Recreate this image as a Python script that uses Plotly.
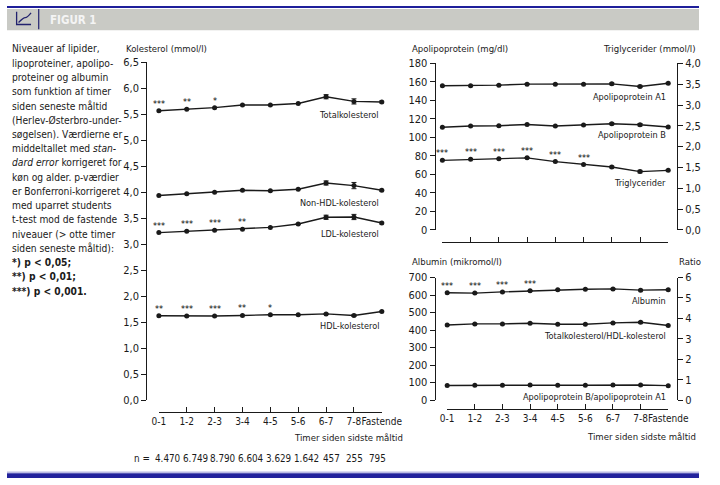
import plotly.graph_objects as go

# ---------------- data ----------------
categories = ["0-1", "1-2", "2-3", "3-4", "4-5", "5-6", "6-7", "7-8", "Fastende"]
n_values = ["4.470", "6.749", "8.790", "6.604", "3.629", "1.642", "457", "255", "795"]

total_chol = [5.57, 5.60, 5.63, 5.68, 5.68, 5.71, 5.84, 5.75, 5.74]
total_chol_err = [None, None, None, None, None, None, 0.04, 0.05, 0.02]
total_chol_sig = ["***", "**", "*", "", "", "", "", "", ""]

nonhdl_chol = [3.94, 3.975, 4.00, 4.04, 4.03, 4.06, 4.18, 4.13, 4.04]
nonhdl_chol_err = [None, None, None, None, None, None, 0.04, 0.06, 0.02]
nonhdl_chol_sig = ["", "", "", "", "", "", "", "", ""]

ldl_chol = [3.225, 3.25, 3.27, 3.29, 3.325, 3.39, 3.52, 3.525, 3.41]
ldl_chol_err = [None, None, None, None, None, None, 0.04, 0.05, 0.02]
ldl_chol_sig = ["***", "***", "***", "**", "", "", "", "", ""]

hdl_chol = [1.625, 1.62, 1.62, 1.63, 1.645, 1.645, 1.66, 1.63, 1.705]
hdl_chol_err = [None, None, None, None, None, None, 0.01, 0.02, 0.01]
hdl_chol_sig = ["**", "***", "***", "**", "*", "", "", "", ""]

apoa1 = [155.8, 155.8, 156.5, 157.6, 157.6, 157.6, 157.9, 155.1, 158.6]
apoa1_err = [None, None, None, None, None, None, 1.0, 1.2, 0.8]
apob = [110.9, 112.3, 112.6, 114.0, 112.3, 113.3, 114.7, 113.7, 111.2]
apob_err = [None, None, None, None, None, None, 1.0, 1.3, 0.8]
trig = [1.67, 1.695, 1.71, 1.73, 1.64, 1.57, 1.51, 1.40, 1.43]
trig_err = [None, None, None, None, None, None, 0.02, 0.03, 0.02]
trig_sig = ["***", "***", "***", "***", "***", "***", "", "", ""]

albumin = [613, 611, 618, 624, 630, 633, 635, 628, 630]
albumin_err = [None, None, None, None, None, None, 3, 4, 3]
albumin_sig = ["***", "***", "***", "***", "", "", "", "", ""]
tc_hdl_ratio = [3.68, 3.73, 3.73, 3.76, 3.71, 3.71, 3.78, 3.81, 3.65]
tc_hdl_ratio_err = [None, None, None, None, None, None, 0.02, 0.04, 0.02]
apob_apoa1_ratio = [0.72, 0.73, 0.73, 0.74, 0.73, 0.73, 0.74, 0.74, 0.71]

# ---------------- layout helpers ----------------
W, H = 720, 485
FONT = "Liberation Sans Narrow, DejaVu Sans Condensed, Arial Narrow, sans-serif"
INK = "#1a1a1a"


def X(px):
    return px / W


def Y(py):
    return 1 - py / H


fig = go.Figure()


def add_series(vals, err, xa, ya):
    fig.add_trace(go.Scatter(
        x=categories, y=vals, xaxis=xa, yaxis=ya, mode="lines+markers",
        line=dict(color=INK, width=1.4), marker=dict(color=INK, size=5),
        error_y=dict(type="data", array=err, color=INK, thickness=1, width=2.5),
        cliponaxis=False, showlegend=False, hoverinfo="skip"))


add_series(total_chol, total_chol_err, "x", "y")
add_series(nonhdl_chol, nonhdl_chol_err, "x", "y")
add_series(ldl_chol, ldl_chol_err, "x", "y")
add_series(hdl_chol, hdl_chol_err, "x", "y")
add_series(apoa1, apoa1_err, "x2", "y2")
add_series(apob, apob_err, "x2", "y2")
add_series(trig, trig_err, "x2", "y3")
add_series(albumin, albumin_err, "x3", "y4")
add_series(tc_hdl_ratio, tc_hdl_ratio_err, "x3", "y5")
add_series(apob_apoa1_ratio, None, "x3", "y5")

ann = []


def stars(vals, sig, xr, yr):
    for c, v, s in zip(categories, vals, sig):
        if s:
            ann.append(dict(x=c, y=v, xref=xr, yref=yr, text=s, showarrow=False,
                            yanchor="bottom", yshift=0, font=dict(size=9, color="#000000", family=FONT)))


stars(total_chol, total_chol_sig, "x", "y")
stars(nonhdl_chol, nonhdl_chol_sig, "x", "y")
stars(ldl_chol, ldl_chol_sig, "x", "y")
stars(hdl_chol, hdl_chol_sig, "x", "y")
stars(trig, trig_sig, "x2", "y3")
stars(albumin, albumin_sig, "x3", "y4")


def text(px, py, s, xanchor="left", size=10, color=INK, yanchor="middle"):
    ann.append(dict(x=X(px), y=Y(py), xref="paper", yref="paper", text=s, showarrow=False,
                    xanchor=xanchor, yanchor=yanchor, font=dict(size=size, color=color, family=FONT)))


# series labels
LBL = 9.1
text(389, 112, "Totalkolesterol", "right", LBL)
text(389, 202, "Non-HDL-kolesterol", "right", LBL)
text(389, 234, "LDL-kolesterol", "right", LBL)
text(389, 329, "HDL-kolesterol", "right", LBL)
text(688, 93, "Apolipoprotein A1", "right", LBL)
text(688, 133, "Apolipoprotein B", "right", LBL)
text(688, 182, "Triglycerider", "right", LBL)
text(688, 303, "Albumin", "right", LBL)
text(688, 339, "Totalkolesterol/HDL-kolesterol", "right", LBL)
text(688, 402, "Apolipoprotein B/apolipoprotein A1", "right", LBL)

# axis titles
TT = 9.5
text(122, 44, "Kolesterol (mmol/l)", "left", TT)
text(419, 44, "Apolipoprotein (mg/dl)", "left", TT)
text(719, 44, "Triglycerider (mmol/l)", "right", TT)
text(419, 263, "Albumin (mikromol/l)", "left", TT)
text(697, 263, "Ratio", "left", TT)
text(414, 443, "Timer siden sidste måltid", "right", TT)
text(719, 442, "Timer siden sidste måltid", "right", TT)

# n row
text(151, 465, "n =", "right", 9.8)
n_px = [167, 196, 225, 254, 283, 312, 338, 362, 386]
for p, s in zip(n_px, n_values):
    text(p, 465, s, "center", 9.8)

# caption text on left
caption = [
    "Niveauer af lipider,",
    "lipoproteiner, apolipo-",
    "proteiner og albumin",
    "som funktion af timer",
    "siden seneste måltid",
    "(Herlev-Østerbro-under-",
    "søgelsen). Værdierne er",
    "middeltallet med <i>stan-</i>",
    "<i>dard error</i> korrigeret for",
    "køn og alder. p-værdier",
    "er Bonferroni-korrigeret",
    "med uparret students",
    "t-test mod de fastende",
    "niveauer (&gt; otte timer",
    "siden seneste måltid):",
    "<b>*) p &lt; 0,05;</b>",
    "<b>**) p &lt; 0,01;</b>",
    "<b>***) p &lt; 0,001.</b>",
]
for i, line in enumerate(caption):
    text(3, 44 + i * 14.65, line, "left", size=10.2)

# header title
ann.append(dict(x=X(43), y=Y(14), xref="paper", yref="paper", text="<b>FIGUR 1</b>", showarrow=False,
                xanchor="left", yanchor="middle", font=dict(size=11.5, color="#f4f4f4", family=FONT)))

# ---------------- shapes (frame decoration) ----------------
shapes = [
    dict(type="rect", xref="paper", yref="paper", x0=0, x1=1, y0=Y(2), y1=Y(0),
         fillcolor="#1f1f9a", line=dict(width=0), layer="below"),
    dict(type="rect", xref="paper", yref="paper", x0=0, x1=1, y0=Y(25), y1=Y(3),
         fillcolor="#c9cac5", line=dict(width=0), layer="below"),
    dict(type="line", xref="paper", yref="paper", x0=X(33), x1=X(33), y0=Y(24), y1=Y(3),
         line=dict(color="#22226e", width=1.2)),
    dict(type="path", xref="paper", yref="paper",
         path=f"M {X(10)},{Y(6)} L {X(10)},{Y(19)} L {X(25)},{Y(19)}",
         line=dict(color="#22226e", width=1.3)),
    dict(type="path", xref="paper", yref="paper",
         path=f"M {X(12)},{Y(17)} Q {X(17)},{Y(12)} {X(19)},{Y(12)} T {X(25)},{Y(7)}",
         line=dict(color="#22226e", width=1.3)),
    dict(type="rect", xref="paper", yref="paper", x0=0, x1=1, y0=Y(485), y1=Y(480),
         fillcolor="#23239c", line=dict(width=0), layer="below"),
    dict(type="line", xref="paper", yref="paper", x0=0, x1=1, y0=Y(479), y1=Y(479),
         line=dict(color="#9a9ad6", width=1), layer="below"),
]

# ---------------- axes ----------------
tickfont = dict(size=11, color=INK, family=FONT)
common_y = dict(showgrid=False, zeroline=False, showline=True, linecolor=INK, linewidth=1.2,
                ticks="outside", ticklen=5, tickwidth=1, tickcolor=INK, tickfont=tickfont,
                anchor="free", fixedrange=True)
common_x = dict(type="category", range=[0, 8], showgrid=False, zeroline=False, showline=True,
                linecolor=INK, linewidth=1.2, ticks="inside", ticklen=5, tickwidth=1,
                tickcolor=INK, anchor="free", tickangle=0,
                tickfont=dict(size=10, color=INK, family=FONT), fixedrange=True)

fig.update_layout(
    width=W, height=H, margin=dict(l=0, r=0, t=0, b=0),
    paper_bgcolor="white", plot_bgcolor="white", separators=",.",
    font=dict(family=FONT, color=INK),
    xaxis=dict(common_x, domain=[X(158), X(390)], position=Y(417)),
    yaxis=dict(common_y, domain=[Y(405), Y(58)], range=[0, 6.5], dtick=0.5, tickformat=".1f",
               position=X(145)),
    xaxis2=dict(common_x, domain=[X(453), X(688)], position=Y(243), showticklabels=False),
    yaxis2=dict(common_y, domain=[Y(230), Y(59)], range=[0, 180], dtick=20, position=X(445)),
    yaxis3=dict(common_y, domain=[Y(230), Y(59)], range=[0, 4], dtick=0.5, tickformat=".1f",
                overlaying="y2", side="right", position=X(697)),
    xaxis3=dict(common_x, domain=[X(458), X(688)], position=Y(414)),
    yaxis4=dict(common_y, domain=[Y(405), Y(279)], range=[0, 700], dtick=100, position=X(445)),
    yaxis5=dict(common_y, domain=[Y(405), Y(279)], range=[0, 6], dtick=1,
                overlaying="y4", side="right", position=X(697)),
    annotations=ann, shapes=shapes,
)

post = (
    "document.documentElement.style.margin='0';"
    "document.documentElement.style.overflow='hidden';"
    "document.body.style.margin='0';document.body.style.padding='0';"
    "document.body.style.overflow='hidden';"
    "var gd=document.getElementById('{plot_id}');"
    "gd.style.position='fixed';gd.style.left='0px';gd.style.top='0px';"
)
fig.write_html("out.html", config={"displayModeBar": False}, post_script=post)
